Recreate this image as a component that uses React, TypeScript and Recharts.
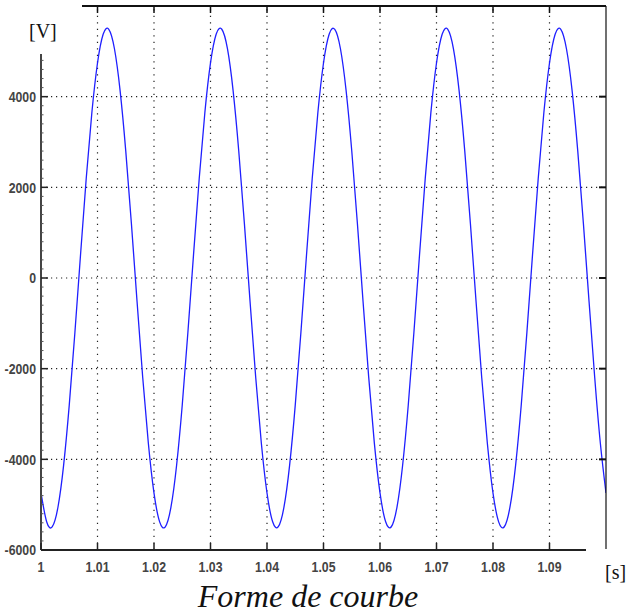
import React from "react";
import { LineChart, Line, XAxis, YAxis, ReferenceLine } from "recharts";

// sampled waveform, 1 ms steps
const times = [
  1.0, 1.001, 1.002, 1.003, 1.004, 1.005, 1.006, 1.007, 1.008, 1.009,
  1.01, 1.011, 1.012, 1.013, 1.014, 1.015, 1.016, 1.017, 1.018, 1.019,
  1.02, 1.021, 1.022, 1.023, 1.024, 1.025, 1.026, 1.027, 1.028, 1.029,
  1.03, 1.031, 1.032, 1.033, 1.034, 1.035, 1.036, 1.037, 1.038, 1.039,
  1.04, 1.041, 1.042, 1.043, 1.044, 1.045, 1.046, 1.047, 1.048, 1.049,
  1.05, 1.051, 1.052, 1.053, 1.054, 1.055, 1.056, 1.057, 1.058, 1.059,
  1.06, 1.061, 1.062, 1.063, 1.064, 1.065, 1.066, 1.067, 1.068, 1.069,
  1.07, 1.071, 1.072, 1.073, 1.074, 1.075, 1.076, 1.077, 1.078, 1.079,
  1.08, 1.081, 1.082, 1.083, 1.084, 1.085, 1.086, 1.087, 1.088, 1.089,
  1.09, 1.091, 1.092, 1.093, 1.094, 1.095, 1.096, 1.097, 1.098, 1.099,
  1.1,
];

const voltage = [
  -4742, -5377, -5486, -5057, -4134, -2805, -1202, 519, 2188, 3644,
  4743, 5377, 5486, 5057, 4134, 2805, 1202, -519, -2188, -3644,
  -4745, -5380, -5488, -5055, -4130, -2800, -1198, 522, 2190, 3646,
  4744, 5378, 5487, 5058, 4133, 2803, 1200, -520, -2190, -3646,
  -4743, -5378, -5486, -5056, -4133, -2804, -1201, 520, 2189, 3645,
  4742, 5376, 5485, 5057, 4135, 2806, 1203, -518, -2187, -3643,
  -4741, -5377, -5487, -5058, -4135, -2806, -1203, 518, 2187, 3643,
  4743, 5377, 5486, 5056, 4133, 2804, 1201, -520, -2189, -3645,
  -4744, -5379, -5487, -5056, -4132, -2803, -1200, 521, 2189, 3645,
  4743, 5378, 5486, 5057, 4134, 2805, 1202, -519, -2188, -3644,
  -4742,
];

const timeTicks = [1, 1.01, 1.02, 1.03, 1.04, 1.05, 1.06, 1.07, 1.08, 1.09];
const voltTicks = [-6000, -4000, -2000, 0, 2000, 4000];
const gridTimes = [1.01, 1.02, 1.03, 1.04, 1.05, 1.06, 1.07, 1.08, 1.09];
const gridVolts = [-4000, -2000, 0, 2000, 4000];

const data = times.map((t, i) => ({ t, v: voltage[i] }));

// minor ticks on the left axis every 200 V
const minorTicks: number[] = [];
for (let v = -6000; v <= 5800; v += 200) minorTicks.push(v);

const W = 626;
const H = 616;
const LEFT = 41;
const TOP = 6;
const BOTTOM = 550;
const RIGHT_W = 20;
const PLOT_RIGHT = W - RIGHT_W;

const labelFont = "'Liberation Sans Narrow', 'Arial Narrow', sans-serif";

const LeftTick = (props: any) => {
  const { y, payload } = props;
  const val = payload.value;
  const major = val % 2000 === 0;
  return (
    <g>
      <line x1={LEFT} x2={LEFT + (major ? 7 : 2.5)} y1={y} y2={y} stroke={major ? "#222" : "#555"} strokeWidth={major ? 1.5 : 1} />
      {voltTicks.includes(val) && (
        <text
          transform={`translate(${LEFT - 5},${y + 5.3}) scale(0.82,1)`}
          textAnchor="end"
          fontFamily={labelFont}
          fontWeight="bold"
          fontSize={15}
          fill="#444"
        >
          {String(val)}
        </text>
      )}
    </g>
  );
};

const BottomTick = (props: any) => {
  const { x, payload } = props;
  return (
    <g>
      <line x1={x} x2={x} y1={BOTTOM} y2={BOTTOM - 7} stroke="#222" strokeWidth={1.5} />
      <text
        transform={`translate(${x},${BOTTOM + 22}) scale(0.82,1)`}
        textAnchor="middle"
        fontFamily={labelFont}
        fontWeight="bold"
        fontSize={15}
        fill="#444"
      >
        {String(payload.value)}
      </text>
    </g>
  );
};

const TopTick = (props: any) => {
  const { x } = props;
  return <line x1={x} x2={x} y1={TOP} y2={TOP + 7} stroke="#111" strokeWidth={1.5} />;
};

const RightTick = (props: any) => {
  const { y } = props;
  return <line x1={PLOT_RIGHT - 7} x2={PLOT_RIGHT} y1={y} y2={y} stroke="#111" strokeWidth={2} />;
};

export default function App() {
  return (
    <div style={{ position: "absolute", left: 0, top: 0, width: W, height: H, background: "#fff" }}>
      <LineChart width={W} height={H} data={data} margin={{ top: 0, right: 0, bottom: 0, left: 0 }}>
        <XAxis
          xAxisId="t"
          dataKey="t"
          type="number"
          domain={[1, 1.1]}
          ticks={timeTicks}
          interval={0}
          height={H - BOTTOM}
          axisLine={{ stroke: "#222", strokeWidth: 2 }}
          tickLine={false}
          tick={<BottomTick />}
          allowDataOverflow
        />
        <XAxis
          xAxisId="top"
          orientation="top"
          dataKey="t"
          type="number"
          domain={[1, 1.1]}
          ticks={gridTimes}
          interval={0}
          height={TOP}
          axisLine={{ stroke: "#111", strokeWidth: 2 }}
          tickLine={false}
          tick={<TopTick />}
          allowDataOverflow
        />
        <YAxis
          yAxisId="v"
          type="number"
          domain={[-6000, 6000]}
          ticks={minorTicks}
          interval={0}
          width={LEFT}
          axisLine={{ stroke: "#444", strokeWidth: 2 }}
          tickLine={false}
          tick={<LeftTick />}
          allowDataOverflow
        />
        <YAxis
          yAxisId="r"
          orientation="right"
          type="number"
          domain={[-6000, 6000]}
          ticks={gridVolts}
          interval={0}
          width={RIGHT_W}
          axisLine={{ stroke: "#111", strokeWidth: 1.2 }}
          tickLine={false}
          tick={<RightTick />}
          allowDataOverflow
        />
        {gridVolts.map((v) => (
          <ReferenceLine key={"h" + v} y={v} yAxisId="v" xAxisId="t" stroke="#222" strokeWidth={1.2} strokeDasharray="1.2 3.8" />
        ))}
        {gridTimes.map((t) => (
          <ReferenceLine key={"v" + t} x={t} yAxisId="v" xAxisId="t" stroke="#222" strokeWidth={1.2} strokeDasharray="1.2 5.3" />
        ))}
        <Line
          xAxisId="t"
          yAxisId="v"
          type="natural"
          dataKey="v"
          stroke="#1f1fff"
          strokeWidth={1.3}
          dot={false}
          isAnimationActive={false}
        />
      </LineChart>
      <svg width={W} height={H} style={{ position: "absolute", left: 0, top: 0, pointerEvents: "none" }}>
        <rect x={0} y={0} width={82} height={54} fill="#fff" />
        <text x={29} y={38} fontFamily="'Liberation Serif', 'Times New Roman', serif" fontSize={20} fill="#111">
          [V]
        </text>
        <rect x={586} y={549} width={40} height={67} fill="#fff" />
        <text x={605} y={579} fontFamily="'Liberation Serif', 'Times New Roman', serif" fontSize={20} fill="#111">
          [s]
        </text>
        <text
          x={308}
          y={607}
          textAnchor="middle"
          fontFamily="'Liberation Serif', 'Times New Roman', serif"
          fontStyle="italic"
          fontSize={32}
          fill="#111"
        >
          Forme de courbe
        </text>
      </svg>
    </div>
  );
}
